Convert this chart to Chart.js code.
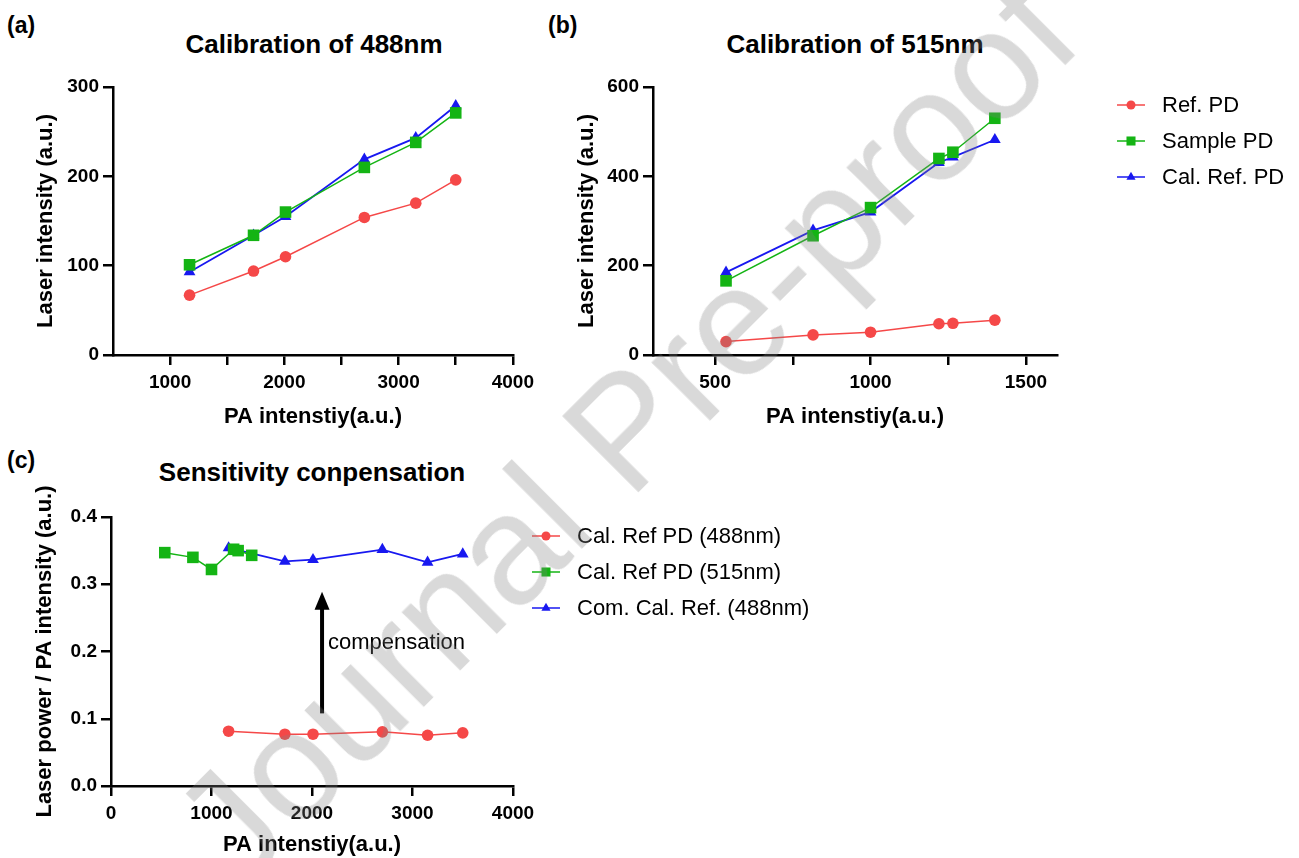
<!DOCTYPE html>
<html>
<head>
<meta charset="utf-8">
<script src="https://cdn.jsdelivr.net/npm/chart.js@4.4.1/dist/chart.umd.min.js"></script>
<style>
html,body{margin:0;padding:0;background:#fff;}
body{width:1299px;height:858px;position:relative;overflow:hidden;font-family:"Liberation Sans",Arial,sans-serif;color:#000;}
.cv{position:absolute;}
.lbl{position:absolute;font-weight:bold;font-size:23px;line-height:26px;white-space:nowrap;}
.title{position:absolute;font-weight:bold;font-size:26px;line-height:30px;text-align:center;white-space:nowrap;transform:translateX(-50%);}
#wm{position:absolute;left:625px;top:430px;transform:translate(-50%,-50%) rotate(-45deg);font-size:155px;line-height:1;color:rgba(128,128,128,0.3);white-space:nowrap;font-family:"Liberation Sans",Arial,sans-serif;pointer-events:none;}
</style>
</head>
<body>
<div class="lbl" style="left:7px;top:12px">(a)</div>
<div class="lbl" style="left:548px;top:12px">(b)</div>
<div class="lbl" style="left:7px;top:447px">(c)</div>
<div class="title" style="left:314px;top:29px">Calibration of 488nm</div>
<div class="title" style="left:855px;top:29px">Calibration of 515nm</div>
<div class="title" style="left:312px;top:457px">Sensitivity conpensation</div>

<canvas id="cA" class="cv" width="540" height="380" style="left:0;top:60px"></canvas>
<canvas id="cB" class="cv" width="759" height="380" style="left:540px;top:60px"></canvas>
<canvas id="cC" class="cv" width="860" height="418" style="left:0;top:440px"></canvas>
<div id="wm">Journal Pre-proof</div>

<script>
// ---------------- DATA ----------------
// (a) Calibration of 488nm
const paA = [1170, 1730, 2010, 2700, 3150, 3500];
const refPdA = [67, 94, 110, 154, 170, 196];
const samplePdA = [101, 134, 160, 210, 238, 271];
const calRefPdA = [93, 134, 155, 219, 243, 279];
// (b) Calibration of 515nm
const paB = [535, 815, 1000, 1220, 1265, 1400];
const refPdB = [30, 45, 51, 70, 71, 78];
const samplePdB = [166, 267, 330, 440, 454, 530];
const calRefPdB = [185, 279, 320, 431, 443, 482];
// (c) Sensitivity compensation
const calRef488 = [0.0815, 0.077, 0.077, 0.0805, 0.0755, 0.079];
const calRef515 = [0.347, 0.340, 0.322, 0.352, 0.350, 0.343];
const comCalRef488 = [0.354, 0.334, 0.3365, 0.3515, 0.3325, 0.345];
// legend labels
const legendAB = ['Ref. PD', 'Sample PD', 'Cal. Ref. PD'];
const legendC = ['Cal. Ref PD (488nm)', 'Cal. Ref PD (515nm)', 'Com. Cal. Ref. (488nm)'];
// tick values / labels
const xTicksA = [1000, 1500, 2000, 2500, 3000, 3500, 4000];
const xLabelsA = ['1000', '', '2000', '', '3000', '', '4000'];
const yTicksA = [0, 100, 200, 300];
const yLabelsA = ['0', '100', '200', '300'];
const xTicksB = [500, 750, 1000, 1250, 1500];
const xLabelsB = ['500', '', '1000', '', '1500'];
const yTicksB = [0, 200, 400, 600];
const yLabelsB = ['0', '200', '400', '600'];
const xTicksC = [0, 1000, 2000, 3000, 4000];
const xLabelsC = ['0', '1000', '2000', '3000', '4000'];
const yTicksC = [0, 0.1, 0.2, 0.3, 0.4];
const yLabelsC = ['0.0', '0.1', '0.2', '0.3', '0.4'];
// arrow annotation (data coordinates)
const arrowX = 2100, arrowFrom = 0.108, arrowTo = 0.289, arrowText = 'compensation', arrowTextY = 0.213;

// ---------------- STYLE ----------------
const FONT = '"Liberation Sans", Arial, sans-serif';
const RED = '#f54848', GREEN = '#14b414', BLUE = '#1818f0';

function pts(xs, ys) { return xs.map((x, i) => ({x: x, y: ys[i]})); }

function ds(label, data, color, style, r, lw) {
  return {label, data, borderColor: color, backgroundColor: color, pointBackgroundColor: color,
    pointBorderColor: color, pointBorderWidth: 0, pointStyle: style, pointRadius: r, pointHoverRadius: r,
    borderWidth: lw, showLine: true, tension: 0, clip: false};
}

function axis(min, max, ticksV, labels, title, yw, xh, titlePad, isY) {
  return {
    type: 'linear', min, max,
    afterBuildTicks: s => { s.ticks = ticksV.map(v => ({value: v})); },
    afterFit: s => { if (isY) s.width = yw; else s.height = xh; },
    ticks: {color: '#000', font: {family: FONT, size: 19, weight: 'bold'}, padding: isY ? 4 : 6,
      autoSkip: false, maxRotation: 0, callback: (v, i) => labels[i]},
    grid: {display: true, drawOnChartArea: false, drawTicks: true, tickLength: 10, tickWidth: 2.5,
      tickColor: '#000', color: '#000', lineWidth: 2.5},
    border: {display: true, color: '#000', width: 2.5},
    title: {display: true, text: title, color: '#000', font: {family: FONT, size: 22, weight: 'bold'},
      padding: titlePad}
  };
}

function drawMarker(ctx, style, x, y, r, color) {
  ctx.fillStyle = color;
  ctx.beginPath();
  if (style === 'circle') ctx.arc(x, y, r, 0, Math.PI * 2);
  else if (style === 'rect') { const s = r * Math.SQRT1_2; ctx.rect(x - s, y - s, 2 * s, 2 * s); }
  else if (style === 'triangle') {
    ctx.moveTo(x, y - r);
    ctx.lineTo(x + r * Math.sin(2 * Math.PI / 3), y - r * Math.cos(2 * Math.PI / 3));
    ctx.lineTo(x + r * Math.sin(4 * Math.PI / 3), y - r * Math.cos(4 * Math.PI / 3));
    ctx.closePath();
  }
  ctx.fill();
}

const lineLegend = {
  id: 'lineLegend',
  afterDraw(chart, args, o) {
    if (!o || !o.show) return;
    const ctx = chart.ctx;
    ctx.save();
    chart.data.datasets.forEach((d, i) => {
      const y = o.y0 + i * o.dy;
      ctx.strokeStyle = d.borderColor; ctx.lineWidth = 1.5;
      ctx.beginPath(); ctx.moveTo(o.x0, y); ctx.lineTo(o.x1, y); ctx.stroke();
      drawMarker(ctx, d.pointStyle, (o.x0 + o.x1) / 2, y, d.pointRadius * 0.78, d.borderColor);
      ctx.fillStyle = '#000';
      ctx.font = '22px ' + FONT;
      ctx.textBaseline = 'middle'; ctx.textAlign = 'left';
      ctx.fillText(d.label, o.tx, y + 1);
    });
    ctx.restore();
  }
};

const arrowPlugin = {
  id: 'arrowAnno',
  afterDatasetsDraw(chart, args, o) {
    if (!o || !o.show) return;
    const {ctx} = chart, x = chart.scales.x, y = chart.scales.y;
    const px = x.getPixelForValue(arrowX), y0 = y.getPixelForValue(arrowFrom), y1 = y.getPixelForValue(arrowTo);
    ctx.save();
    ctx.strokeStyle = '#000'; ctx.fillStyle = '#000'; ctx.lineWidth = 4;
    ctx.beginPath(); ctx.moveTo(px, y0); ctx.lineTo(px, y1 + 14); ctx.stroke();
    ctx.beginPath(); ctx.moveTo(px, y1); ctx.lineTo(px - 7.5, y1 + 18); ctx.lineTo(px + 7.5, y1 + 18); ctx.closePath(); ctx.fill();
    ctx.font = '22px ' + FONT; ctx.textBaseline = 'middle'; ctx.textAlign = 'left';
    ctx.fillText(arrowText, px + 6, y.getPixelForValue(arrowTextY));
    ctx.restore();
  }
};
Chart.register(lineLegend, arrowPlugin);

function make(id, pad, scales, datasets, legendOpt, arrowOpt) {
  return new Chart(document.getElementById(id), {
    type: 'scatter',
    data: {datasets},
    options: {
      responsive: false, animation: false, devicePixelRatio: 1,
      layout: {padding: pad},
      scales,
      plugins: {legend: {display: false}, tooltip: {enabled: false}, title: {display: false},
        lineLegend: legendOpt || {show: false}, arrowAnno: arrowOpt || {show: false}},
      events: []
    }
  });
}

// (a)
make('cA', {left: 0, top: 27, right: 25, bottom: 0}, {
  x: axis(500, 4000, xTicksA, xLabelsA, 'PA intenstiy(a.u.)', 0, 85, {top: 0, bottom: 10}, false),
  y: axis(0, 300, yTicksA, yLabelsA, 'Laser intensity (a.u.)', 113, 0, {top: 33, bottom: 0}, true)
}, [
  ds(legendAB[0], pts(paA, refPdA), RED, 'circle', 5.8, 1.5),
  ds(legendAB[1], pts(paA, samplePdA), GREEN, 'rect', 8.2, 1.5),
  ds(legendAB[2], pts(paA, calRefPdA), BLUE, 'triangle', 6.8, 1.8)
]);

// (b)
make('cB', {left: 0, top: 27, right: 242, bottom: 0}, {
  x: axis(300, 1600, xTicksB, xLabelsB, 'PA intenstiy(a.u.)', 0, 85, {top: 0, bottom: 10}, false),
  y: axis(0, 600, yTicksB, yLabelsB, 'Laser intensity (a.u.)', 113, 0, {top: 34, bottom: 0}, true)
}, [
  ds(legendAB[0], pts(paB, refPdB), RED, 'circle', 5.8, 1.5),
  ds(legendAB[1], pts(paB, samplePdB), GREEN, 'rect', 8.2, 1.5),
  ds(legendAB[2], pts(paB, calRefPdB), BLUE, 'triangle', 6.8, 1.8)
], {show: true, x0: 577, x1: 605, y0: 45, dy: 36, tx: 622});

// (c)
make('cC', {left: 0, top: 77, right: 347, bottom: 0}, {
  x: axis(0, 4000, xTicksC, xLabelsC, 'PA intenstiy(a.u.)', 0, 72, {top: 0, bottom: 0}, false),
  y: axis(0, 0.4, yTicksC, yLabelsC, 'Laser power / PA intensity (a.u.)', 111, 0, {top: 32, bottom: 0}, true)
}, [
  ds(legendC[0], pts(paA, calRef488), RED, 'circle', 5.8, 1.5),
  ds(legendC[1], pts(paB, calRef515), GREEN, 'rect', 8.2, 1.5),
  ds(legendC[2], pts(paA, comCalRef488), BLUE, 'triangle', 6.8, 1.8)
], {show: true, x0: 532, x1: 560, y0: 96, dy: 36, tx: 577}, {show: true});
</script>
</body>
</html>
